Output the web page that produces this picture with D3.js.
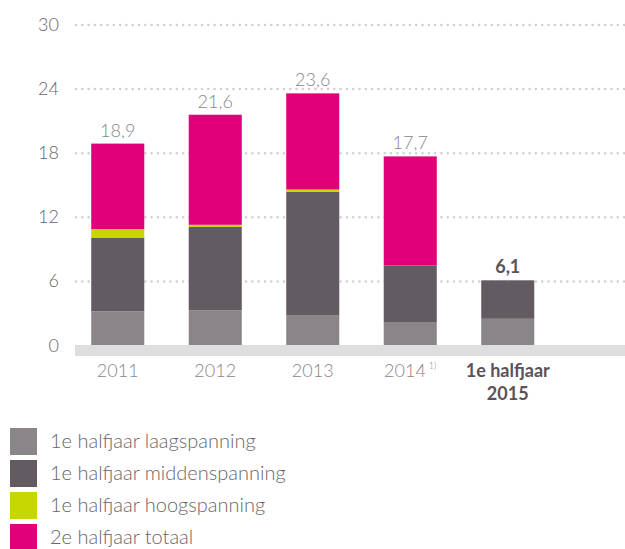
<!DOCTYPE html>
<html lang="nl">
<head>
<meta charset="utf-8">
<title>storingen</title>
<script src="https://d3js.org/d3.v7.min.js"></script>
<style>
body{margin:0;background:#fff;font-family:Lato,"Open Sans",sans-serif;}
</style>
</head>
<body>
<div id="chart"></div>
<script>
// data
var years = ["2011","2012","2013","2014","2015"]
var yearLabels = [["2011"],["2012"],["2013"],["2014"],["1e halfjaar","2015"]]
var laag   = [3.2, 3.3, 2.8, 2.2, 2.5]
var midden = [6.9, 7.8, 11.6, 5.3, 3.6]
var hoog   = [0.8, 0.2, 0.2, 0, 0]
var tweede = [8.0, 10.3, 9.0, 10.2, 0]
var totals = ["18,9","21,6","23,6","17,7","6,1"]
var yTicks = [0,6,12,18,24,30]
var seriesNames = ["1e halfjaar laagspanning","1e halfjaar middenspanning","1e halfjaar hoogspanning","2e halfjaar totaal"]
var colors = ["#8a8588","#625b61","#c5d600","#e0007a"]

var w = 625, h = 549
var svg = d3.select("#chart").append("svg").attr("width",w).attr("height",h)

var y = d3.scaleLinear().domain([0,30]).range([345.5,25])
var x = d3.scaleBand().domain(years).range([69,556.5]).paddingInner(0.456).paddingOuter(0.228)

// grid lines
svg.selectAll(".grid").data(yTicks.filter(function(d){return d>0})).enter()
  .append("line")
  .attr("x1",76).attr("x2",625)
  .attr("y1",function(d){return y(d)}).attr("y2",function(d){return y(d)})
  .attr("stroke","#cfcfcf").attr("stroke-width",2.5)
  .attr("stroke-dasharray","0,6.3").attr("stroke-linecap","round")

// y labels
svg.selectAll(".ylab").data(yTicks).enter()
  .append("text")
  .attr("x",59).attr("y",function(d){return y(d)+6})
  .attr("text-anchor","end").attr("font-size",18).attr("fill","#6a6569")
  .attr("font-weight",300)
  .text(function(d){return d})

// stacked bars
var rows = years.map(function(yr,i){
  return {year:yr, laag:laag[i], midden:midden[i], hoog:hoog[i], tweede:tweede[i]}
})
var keys = ["laag","midden","hoog","tweede"]
var stacked = d3.stack().keys(keys)(rows)

svg.selectAll(".layer").data(stacked).enter()
  .append("g").attr("fill",function(d,i){return colors[i]})
  .selectAll("rect").data(function(d){return d}).enter()
  .append("rect")
  .attr("x",function(d){return x(d.data.year)})
  .attr("width",x.bandwidth())
  .attr("y",function(d){return y(d[1])})
  .attr("height",function(d){return y(d[0])-y(d[1])})

// baseline band
svg.append("rect").attr("x",75).attr("y",345).attr("width",550).attr("height",11).attr("fill","#dedede")

// totals on top
svg.selectAll(".tot").data(rows).enter()
  .append("text")
  .attr("x",function(d){return x(d.year)+x.bandwidth()/2})
  .attr("y",function(d){return y(d.laag+d.midden+d.hoog+d.tweede)-7})
  .attr("text-anchor","middle").attr("font-size",18)
  .attr("fill",function(d,i){return i==4 ? "#5a5358" : "#8a8588"})
  .attr("font-weight",function(d,i){return i==4 ? 700 : 300})
  .text(function(d,i){return totals[i]})

// x labels
var xl = svg.selectAll(".xlab").data(years).enter()
  .append("text")
  .attr("x",function(d){return x(d)+x.bandwidth()/2})
  .attr("y",377)
  .attr("text-anchor","middle").attr("font-size",18)
  .attr("fill",function(d,i){return i==4 ? "#5a5358" : "#8a8588"})
  .attr("font-weight",function(d,i){return i==4 ? 700 : 300})
xl.each(function(d,i){
  var t = d3.select(this)
  yearLabels[i].forEach(function(s,j){
    t.append("tspan").attr("x",x(d)+x.bandwidth()/2).attr("dy",j==0?0:23).text(s)
  })
  if(d=="2014"){
    t.append("tspan").attr("font-size",9).attr("dy",-8).attr("dx",3).text("1)")
  }
})

// legend
var lg = svg.selectAll(".leg").data(seriesNames).enter()
  .append("g").attr("transform",function(d,i){return "translate(10,"+(428+i*32)+")"})
lg.append("rect").attr("width",27).attr("height",27).attr("fill",function(d,i){return colors[i]})
lg.append("text").attr("x",40).attr("y",20).attr("font-size",20)
  .attr("fill","#6a6569").attr("font-weight",300).text(function(d){return d})
</script>
</body>
</html>
